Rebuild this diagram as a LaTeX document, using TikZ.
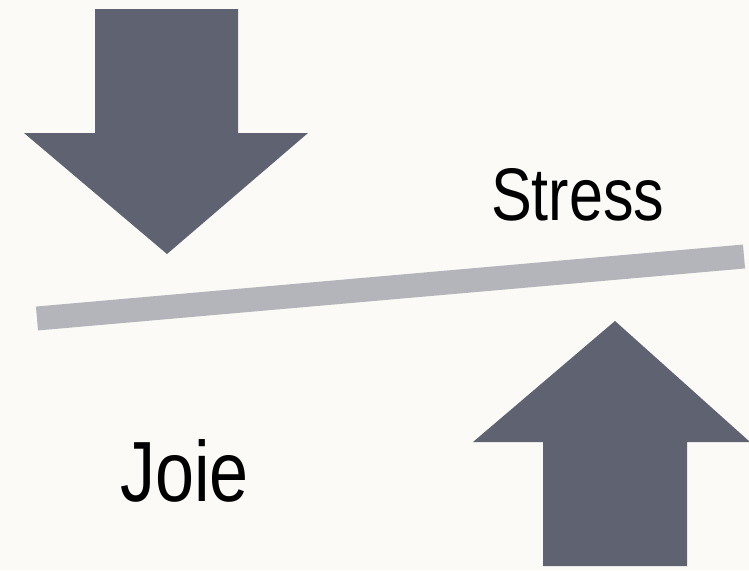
\documentclass[tikz,border=0pt]{standalone}
\usepackage{fontspec}
\newfontfamily\narrowsans[FakeStretch=0.82]{Liberation Sans}
\definecolor{bgc}{HTML}{FBFAF7}
\definecolor{arrowc}{HTML}{5F6270}
\definecolor{barc}{HTML}{B4B5BA}
\tikzset{
  bigarrow/.style={fill=arrowc, draw=none},
  label/.style={inner sep=0pt, anchor=base west, text=black}
}
\begin{document}
\begin{tikzpicture}[x=1pt,y=-1pt]
\fill[bgc] (0,0) rectangle (749,570);
\useasboundingbox (0,0) rectangle (749,570);
% down arrow
\fill[bigarrow] (95,9) -- (238,9) -- (238,133) -- (308,133) -- (167,254) -- (24,133) -- (95,133) -- cycle;
% up arrow
\fill[bigarrow] (615,321) -- (750,442) -- (687,442) -- (687,566) -- (543,566) -- (543,442) -- (473,442) -- cycle;
% tilted bar
\coordinate (barL) at (37,318.5);
\coordinate (barR) at (744,256.5);
\draw[barc, line width=24pt] (barL) -- (barR);
% labels
\node[label, font=\narrowsans\fontsize{74.5}{80}\selectfont] (stress) at (491,220) {Stress};
\node[label, font=\narrowsans\fontsize{85.5}{90}\selectfont] (joie) at (120,501) {Joie};
\end{tikzpicture}
\end{document}
